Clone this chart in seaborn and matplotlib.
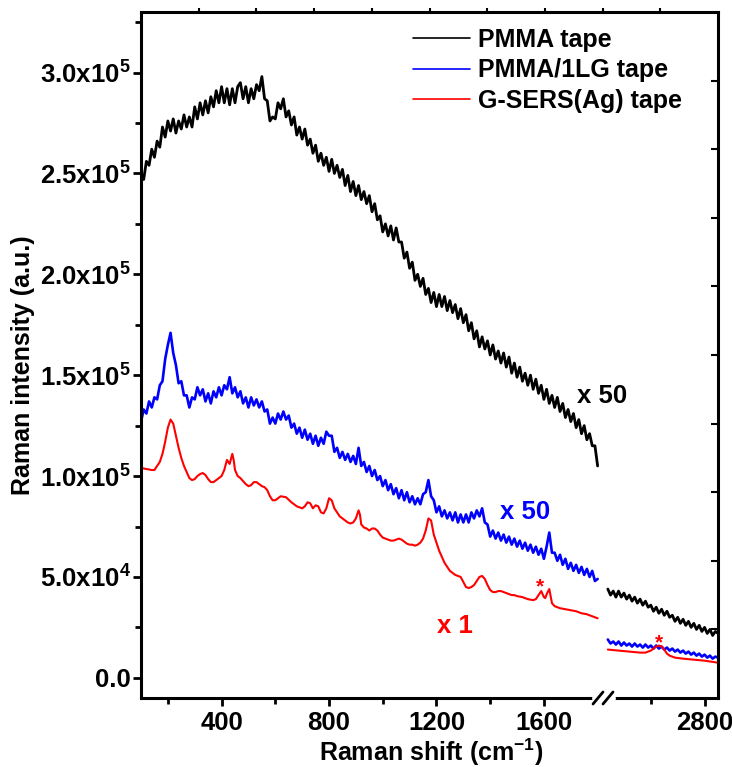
import numpy as np
import pandas as pd
import matplotlib
matplotlib.use("Agg")
import matplotlib.pyplot as plt
import seaborn as sns
from matplotlib.ticker import FixedLocator, FuncFormatter
from matplotlib.lines import Line2D

sns.set_style("ticks")
plt.rcParams['font.family'] = ['Liberation Sans', 'DejaVu Sans']
plt.rcParams['font.weight'] = 'bold'
plt.rcParams['text.color'] = 'black'
plt.rcParams['axes.labelcolor'] = 'black'
plt.rcParams['xtick.color'] = 'black'
plt.rcParams['ytick.color'] = 'black'
plt.rcParams['mathtext.fontset'] = 'custom'
plt.rcParams['mathtext.rm'] = 'Liberation Sans:bold'
plt.rcParams['mathtext.bf'] = 'Liberation Sans:bold'
plt.rcParams['mathtext.default'] = 'bf'

# ---------------- data (Raman intensity, a.u.) ----------------
shift_left = np.arange(100, 1801, 10)
pmma_left = np.array([
    250, 247, 256, 254, 262, 258, 266, 263, 273, 268, 276, 271, 277, 270, 276, 272, 279, 273, 278, 273,
    283, 277, 285, 279, 286, 280, 288, 283, 291, 285, 293, 285, 292, 284, 292, 285, 293, 295, 287, 293,
    285, 292, 287, 294, 291, 298, 287, 286, 276, 278, 277, 285, 282, 287, 278, 281, 274, 278, 269, 273,
    267, 272, 264, 267, 260, 264, 256, 260, 254, 258, 251, 257, 250, 254, 248, 252, 244, 249, 241, 246,
    239, 244, 237, 241, 235, 239, 231, 235, 227, 229, 221, 225, 219, 224, 217, 223, 216, 216, 208, 211,
    203, 206, 197, 200, 194, 198, 190, 193, 186, 191, 184, 190, 184, 189, 182, 187, 181, 185, 178, 183,
    176, 180, 172, 176, 168, 172, 164, 169, 163, 167, 160, 165, 158, 162, 156, 161, 154, 159, 151, 156,
    149, 154, 147, 151, 145, 150, 143, 148, 141, 145, 138, 143, 136, 140, 134, 139, 132, 136, 129, 133,
    127, 131, 124, 128, 121, 125, 118, 121, 115, 115, 105]) * 1e3
pmma1lg_left = np.array([
    127, 133, 131, 137, 134, 139, 138, 145, 147, 158, 165, 171, 161, 155, 146, 147, 140, 140, 134, 139,
    138, 144, 140, 143, 137, 141, 136, 142, 139, 144, 140, 145, 143, 149, 141, 144, 139, 142, 136, 139,
    134, 139, 135, 138, 134, 137, 132, 133, 126, 129, 126, 131, 128, 132, 128, 130, 124, 126, 121, 124,
    119, 123, 118, 121, 116, 120, 115, 119, 116, 122, 120, 120, 112, 114, 109, 112, 108, 111, 107, 110,
    106, 114, 105, 107, 102, 105, 100, 103, 98, 100, 95, 98, 93, 96, 91, 94, 89, 93, 88, 92,
    87, 90, 86, 89, 86, 91, 92, 98, 90, 88, 82, 85, 80, 83, 79, 82, 78, 82, 77, 81,
    77, 81, 77, 82, 79, 83, 80, 84, 77, 76, 70, 73, 69, 72, 68, 71, 67, 70, 66, 69,
    65, 68, 64, 67, 63, 66, 62, 65, 61, 64, 59, 65, 72, 62, 62, 58, 61, 56, 59, 54,
    57, 53, 56, 52, 55, 51, 54, 50, 53, 48, 49]) * 1e3
sers_left_x = np.array([
    100, 120, 140, 150, 160, 170, 180, 190, 200, 210, 220, 230, 240, 250, 260, 270, 280, 290, 300, 310,
    320, 330, 340, 350, 360, 370, 380, 390, 400, 410, 420, 425, 430, 440, 445, 450, 460, 470, 480, 490,
    500, 510, 520, 530, 540, 550, 560, 570, 580, 590, 600, 620, 640, 660, 680, 690, 700, 710, 720, 730,
    740, 750, 760, 770, 780, 790, 800, 810, 820, 830, 840, 850, 860, 870, 880, 890, 900, 910, 915, 920,
    930, 940, 950, 960, 970, 980, 990, 1000, 1010, 1020, 1030, 1040, 1050, 1060, 1070, 1080, 1090, 1100, 1110, 1120,
    1130, 1140, 1150, 1160, 1170, 1180, 1190, 1200, 1210, 1220, 1230, 1240, 1250, 1260, 1270, 1280, 1290, 1300, 1310, 1320,
    1330, 1340, 1350, 1360, 1370, 1380, 1390, 1400, 1410, 1420, 1430, 1440, 1450, 1460, 1470, 1480, 1490, 1500, 1520, 1540,
    1560, 1570, 1580, 1590, 1600, 1605, 1612, 1620, 1630, 1640, 1660, 1680, 1700, 1720, 1740, 1760, 1780, 1800])
sers_left = np.array([
    104, 103.5, 103, 103, 105, 107, 111, 117, 124, 128, 126, 120, 114, 109, 105, 102, 99, 98, 98.5, 100,
    101, 101.5, 100.5, 98.5, 97, 97, 98, 99, 100, 103, 108, 107, 106, 111, 108, 103, 100, 99, 97.5, 96,
    95, 95.5, 97, 97, 96, 95, 94.5, 93, 90, 88, 88, 90, 89.5, 87, 85, 84.5, 84, 85, 87, 86.5,
    84, 85.5, 85, 82, 81.5, 84, 89, 88, 84, 82, 80, 79, 78, 77, 76.5, 77, 79, 83, 81, 76,
    74.5, 74, 73, 74, 74, 73, 71, 69.5, 69, 68.5, 68, 68, 68.5, 69, 68.5, 67.5, 66.5, 66, 66, 65.5,
    66, 67, 69, 73, 79, 78, 71, 67, 63, 60, 57, 55, 53, 52, 51, 50.5, 50, 47.5, 45, 44.5,
    45, 46, 48, 50, 50.5, 49, 46, 43.5, 42.5, 42.5, 43, 43, 42.5, 42, 41.5, 41, 41, 40.5, 40, 39,
    38.5, 39, 41, 43, 40, 39.5, 42, 44, 37, 35.5, 34.5, 34, 33.5, 33, 32, 31.5, 30.5, 29.5]) * 1e3

shift_right = np.arange(2440, 2851, 10)
pmma_right = np.array([
    44, 41, 43, 40, 43, 40, 42, 39, 41, 38, 40, 37, 39, 36, 38, 35, 36, 33, 35, 32,
    34, 31, 33, 30, 31, 28, 30, 27, 29, 26, 28, 25, 27, 24, 26, 23, 25, 22, 24, 21,
    23, 22]) * 1e3
pmma1lg_right = np.array([
    19, 17, 18, 16.5, 18, 16, 17.5, 16, 17, 15.5, 17, 15.5, 16.5, 15, 16.5, 15, 16, 14.5, 16, 14.5,
    15.5, 14, 15, 13.5, 14.5, 13, 14, 12.5, 13.5, 12, 13, 11.5, 12.5, 11, 12, 10.5, 11.5, 10, 11, 9.5,
    10.5, 10]) * 1e3
sers_right_x = np.array([2440, 2480, 2520, 2560, 2580, 2600, 2610, 2620, 2630, 2640, 2650, 2660, 2670,
                         2690, 2720, 2760, 2800, 2850])
sers_right = np.array([14, 13.5, 13, 12.5, 12.5, 13.5, 14.5, 15.5, 16, 15.5, 14, 12, 11,
                       10, 9.5, 9, 8.5, 7.5]) * 1e3

series_names = ["PMMA tape", "PMMA/1LG tape", "G-SERS(Ag) tape"]
series_colors = ["#000000", "#0000ff", "#ff0000"]
y_ticks = [0, 5e4, 1e5, 1.5e5, 2e5, 2.5e5, 3e5]
y_labels = ["0.0", "5.0x10$^{4}$", "1.0x10$^{5}$", "1.5x10$^{5}$", "2.0x10$^{5}$", "2.5x10$^{5}$", "3.0x10$^{5}$"]
x_ticks_left = [400, 800, 1200, 1600]
x_ticks_right = [2800]

# ---------------- figure ----------------
W, H = 732, 767
fig = plt.figure(figsize=(W / 100, H / 100), dpi=100)

def fx(px):
    return px / W

def fy(py):
    return 1 - py / H

ax_bottom, ax_top = 698, 12
# frame axes carrying the unlabelled top / right ticks of the box
axf = fig.add_axes([fx(141), fy(ax_bottom), fx(718) - fx(141), fy(ax_top) - fy(ax_bottom)])
axf.set_xlim(0, 1)
axf.set_ylim(0, 1)
axf.patch.set_visible(False)
for s in axf.spines.values():
    s.set_visible(False)
axf.set_xticks(np.arange(1, 10) / 10)
axf.set_yticks(np.arange(1, 10) / 10)
axf.tick_params(axis='x', which='major', top=True, bottom=False, labeltop=False, labelbottom=False,
                direction='out', length=3, width=1.5)
axf.tick_params(axis='y', which='major', right=True, left=False, labelright=False, labelleft=False,
                direction='in', length=5, width=1.5)

ax2 = fig.add_axes([fx(603), fy(ax_bottom), fx(718) - fx(603), fy(ax_top) - fy(ax_bottom)])
ax1 = fig.add_axes([fx(141), fy(ax_bottom), fx(603) - fx(141), fy(ax_top) - fy(ax_bottom)])
ax2.set_zorder(2)
ax2.patch.set_visible(False)
ax1.set_zorder(3)
ax1.patch.set_visible(False)

left_sets = [(shift_left, pmma_left), (shift_left, pmma1lg_left), (sers_left_x, sers_left)]
right_sets = [(shift_right, pmma_right), (shift_right, pmma1lg_right), (sers_right_x, sers_right)]
lws = [2.0, 1.9, 1.5]
for (x, y), name, c, lw in zip(left_sets, series_names, series_colors, lws):
    sns.lineplot(x=x, y=y, ax=ax1, color=c, linewidth=lw, label=name, sort=False, estimator=None)
for (x, y), c, lw in zip(right_sets, series_colors, lws):
    sns.lineplot(x=x, y=y, ax=ax2, color=c, linewidth=lw, sort=False, estimator=None, legend=False)

for ax in (ax1, ax2):
    ax.set_ylim(-1e4, 3.3e5)
    ax.set_xlabel("")
    ax.set_ylabel("")
    for s in ax.spines.values():
        s.set_linewidth(2.2)
        s.set_color("black")
ax1.set_xlim(100, 1820)
ax2.set_xlim(2422, 2850)
ax1.spines['right'].set_visible(False)
ax2.spines['left'].set_visible(False)

ax1.yaxis.set_major_locator(FixedLocator(y_ticks))
ax1.yaxis.set_major_formatter(FuncFormatter(lambda v, p: y_labels[y_ticks.index(v)] if v in y_ticks else ""))
ax1.yaxis.set_minor_locator(FixedLocator([2.5e4, 7.5e4, 1.25e5, 1.75e5, 2.25e5, 2.75e5, 3.25e5]))
ax1.xaxis.set_major_locator(FixedLocator(x_ticks_left))
ax1.xaxis.set_minor_locator(FixedLocator([200, 600, 1000, 1400]))
ax2.xaxis.set_major_locator(FixedLocator(x_ticks_right))
ax2.xaxis.set_minor_locator(FixedLocator([2600]))
ax2.set_yticks([])

for ax in (ax1, ax2):
    ax.tick_params(axis='both', which='major', direction='out', length=6, width=2,
                   labelsize=18.5, pad=3, colors='black')
    ax.tick_params(axis='both', which='minor', direction='out', length=4, width=2)
    for lab in ax.get_xticklabels() + ax.get_yticklabels():
        lab.set_fontweight('bold')
ax1.tick_params(axis='y', which='major', pad=1.5)

# axis break marks on the bottom axis
fig.add_artist(Line2D([fx(595), fx(612)], [fy(ax_bottom), fy(ax_bottom)], color='white', lw=5, zorder=10))
for x0 in (593, 603):
    fig.add_artist(Line2D([fx(x0), fx(x0 + 10)], [fy(704), fy(692)], color='black', lw=2, zorder=11))

# axis titles
fig.text(fx(23), fy(365), "Raman intensity (a.u.)", rotation=90, ha='center', va='center',
         fontsize=18, fontweight='bold', color='black')
fig.text(fx(431), fy(752), "Raman shift (cm$^{-1}$)", ha='center', va='center',
         fontsize=18, fontweight='bold', color='black')

# scale annotations
ax1.text(1725, 1.396e5, "x 50", color='black', fontsize=18.5, fontweight='bold', ha='left', va='center')
ax1.text(1437, 8.2e4, "x 50", color='#0000ff', fontsize=18.5, fontweight='bold', ha='left', va='center')
ax1.text(1202, 2.57e4, "x 1", color='#ff0000', fontsize=18.5, fontweight='bold', ha='left', va='center')
ax1.text(1585, 4.5e4, "*", color='#ff0000', fontsize=15, fontweight='bold', ha='center', va='center')
ax2.text(2630, 1.75e4, "*", color='#ff0000', fontsize=15, fontweight='bold', ha='center', va='center')

leg = ax1.legend(loc='upper left', bbox_to_anchor=(fx(413), fy(28)), bbox_transform=fig.transFigure,
                 frameon=False, fontsize=18, handlelength=2.28, handletextpad=0.32,
                 borderpad=0, borderaxespad=0, labelspacing=0.26)
for t in leg.get_texts():
    t.set_fontweight('bold')
    t.set_color('black')
for h in leg.get_lines():
    h.set_linewidth(1.2)

fig.savefig("out.png", dpi=100)
